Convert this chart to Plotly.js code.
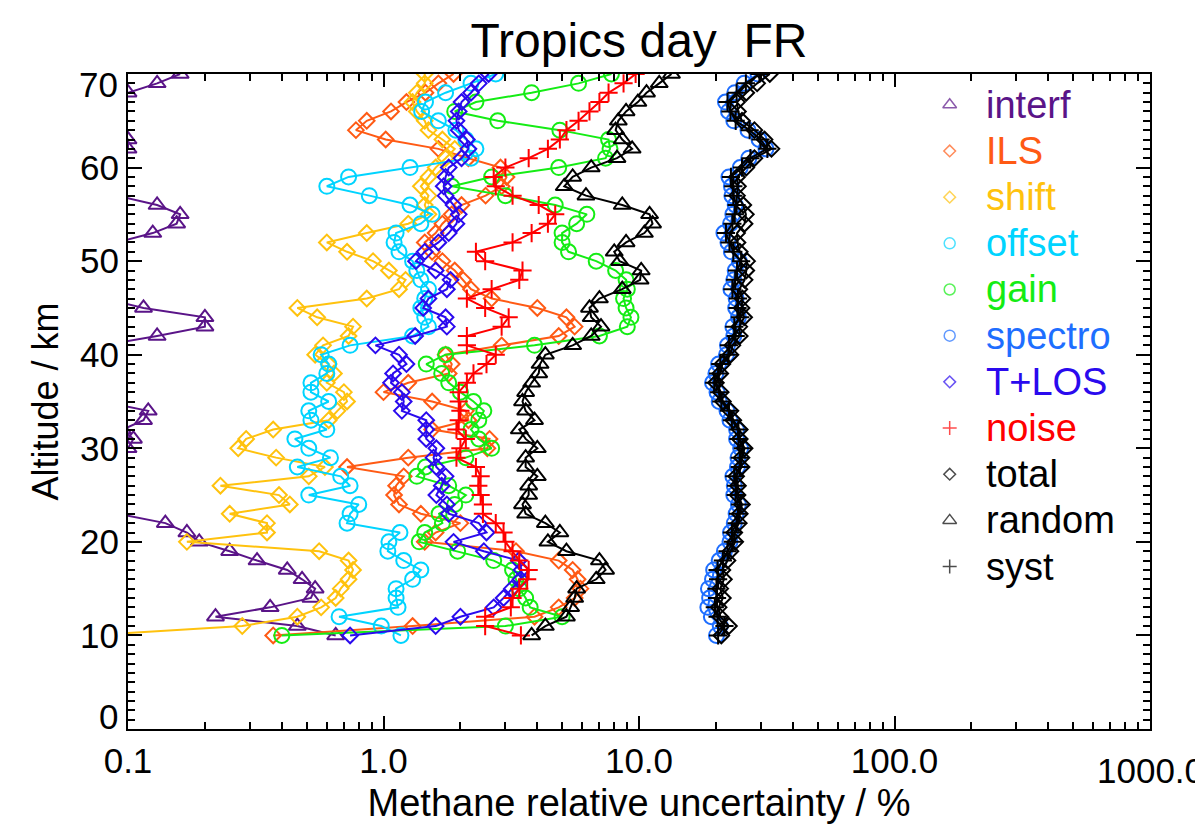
<!DOCTYPE html>
<html>
<head>
<meta charset="utf-8">
<script src="https://cdn.plot.ly/plotly-3.0.1.min.js"></script>
<style>html,body{margin:0;padding:0;background:#fff;}#chart{width:1195px;height:830px;}</style>
</head>
<body>
<div id="chart"></div>
<script>
// Altitude levels (km)
const altitude = [10,11,12,13,14,15,16,17,18,19,20,21,22,23,24,25,26,27,28,29,30,31,32,33,34,35,36,37,38,39,40,41,42,43,44,45,46,47,48,49,50,51,52,53,54,55,56,57,58,59,60,61,62,63,64,65,66,67,68,69,70];

// Relative uncertainty (%) per error source, altitude 10 -> 70 km
const interf = [0.65,0.46,0.22,0.36,0.52,0.54,0.48,0.42,0.32,0.25, 0.19,0.17,0.14,0.09,0.06,0.05,0.05,0.06,0.07,0.08, 0.1,0.105,0.095,0.115,0.12,0.08,0.06,0.05,0.05,0.06, 0.07,0.08,0.13,0.2,0.2,0.115,0.08,0.06,0.05,0.05, 0.06,0.07,0.09,0.125,0.155,0.16,0.13,0.09,0.07,0.06, 0.07,0.09,0.1,0.1,0.08,0.07,0.06,0.08,0.1,0.13, 0.16];
const ils = [0.37,1.3,3.9,4.85,5.6,5.9,5.75,5.5,4.85,3.3, 1.45,1.6,2.0,1.4,1.15,1.1,1.12,1.2,0.72,1.25, 2.55,2.6,1.55,2.15,2.1,1.55,1.0,1.25,1.8,1.85, 1.75,2.9,4.85,5.6,5.2,4.0,2.65,2.2,2.05,1.9, 1.7,1.55,1.45,1.6,1.7,1.85,2.02,2.51,2.9,3.03, 2.87,2.15,1.64,1.02,0.78,0.86,1.07,1.23,1.46,1.64, 1.88];
const shift = [0.07,0.28,0.46,0.57,0.65,0.68,0.73,0.76,0.73,0.56, 0.17,0.35,0.35,0.25,0.43,0.39,0.23,0.51,0.59,0.38, 0.27,0.29,0.37,0.61,0.66,0.72,0.7,0.6,0.64,0.61, 0.54,0.58,0.73,0.76,0.55,0.46,0.86,1.15,1.22,1.05, 0.91,0.72,0.6,0.86,1.25,1.5,1.45,1.5,1.4,1.5, 1.6,1.75,1.9,1.7,1.5,1.45,1.35,1.3,1.35,1.45, 1.45];
const offset = [1.17,0.98,0.67,1.14,1.12,1.12,1.3,1.4,1.2,1.04, 1.05,1.16,0.72,0.74,0.8,0.51,0.74,0.68,0.46,0.62, 0.51,0.45,0.6,0.52,0.51,0.61,0.52,0.52,0.6,0.61, 0.57,0.74,1.3,1.5,1.45,1.4,1.45,1.5,1.4,1.35, 1.3,1.15,1.1,1.12,1.4,1.55,1.27,0.88,0.6,0.73, 1.27,2.2,2.3,2.1,1.92,1.64,1.41,1.46,1.75,2.2, 2.75];
const gain = [0.4,3.0,5.0,3.75,3.6,3.4,3.3,3.2,2.7,1.95, 1.38,1.45,1.7,1.65,1.9,2.1,1.8,1.35,1.46,2.1, 2.65,2.36,2.2,2.36,2.47,2.25,2.0,1.8,1.69,1.47, 1.75,3.9,7.0,9.0,9.3,8.9,8.7,9.0,8.9,8.1, 6.8,5.3,5.0,5.0,5.7,6.25,4.7,3.0,1.85,2.65, 4.85,7.4,7.7,7.6,4.9,2.8,1.9,2.3,3.8,5.8, 7.8];
const spectro = [20.1,20.8,19.2,18.6,18.9,18.7,19.4,19.6,20.6,21.6, 22.7,22.8,23.6,24.0,24.5,23.5,23.6,23.3,24.3,24.4, 25.0,24.1,24.1,22.7,22.1,20.6,20.2,19.4,20.0,20.5, 22.0,22.2,23.5,23.3,24.5,23.9,24.0,22.9,23.5,23.8, 24.7,23.0,22.3,21.5,22.8,23.3,23.8,23.1,23.0,22.5, 24.9,26.9,31.4,29.5,26.7,23.5,22.4,21.8,23.7,25.8, 29.2];
const tlos = [0.74,1.6,2.0,2.7,2.95,3.18,3.44,3.47,3.38,2.47, 1.88,2.53,2.36,1.8,1.77,1.61,1.69,1.75,1.61,1.57, 1.61,1.47,1.47,1.47,1.18,1.2,1.18,1.07,1.09,1.23, 1.15,0.93,1.33,1.77,1.75,1.43,1.5,1.77,1.83,1.6, 1.34,1.45,1.64,1.8,1.93,1.97,1.88,1.75,1.72,1.75, 1.8,2.02,2.15,2.12,1.97,1.93,1.97,2.02,2.2,2.36, 2.58];
const noise = [3.45,2.5,2.5,3.15,3.2,3.4,3.65,3.7,3.4,3.2, 3.0,2.95,2.75,2.45,2.45,2.4,2.35,2.4,2.3,1.93, 2.0,2.1,1.93,1.97,2.0,1.97,1.97,2.12,2.25,2.53, 2.75,2.12,2.12,2.9,3.09,2.5,2.12,2.65,3.4,3.5, 2.5,2.3,3.2,3.8,4.4,4.7,4.05,3.2,2.75,2.7, 3.0,3.7,4.4,4.9,5.2,5.8,6.4,7.0,7.6,8.7, 9.7];
const total = [21,22.5,20.8,20.5,21.3,20.8,21.5,21.2,22.2,22.8, 23.8,23.6,24.6,24.8,25.3,24.3,24.4,24.0,25.2,25.2, 25.9,24.8,24.8,23.4,22.8,21.3,20.9,20.0,20.8,21.2, 22.8,23.2,24.8,24.7,25.8,25.2,25.4,24.7,25.9,26.3, 26.5,24.8,24.3,24.2,25.9,26.2,25.6,24.2,24.4,24.2, 26.3,28.3,33,31,28.3,25.3,24.4,24.2,26.3,29, 32.5];
const random = [3.8,4.3,5.2,5.4,5.6,5.7,6.8,7.4,7.0,5.2, 4.4,4.9,4.3,3.6,3.5,3.7,3.7,4.0,3.6,3.6, 4.0,3.6,3.4,3.9,3.6,3.5,3.6,3.8,4.05,4.1, 4.3,5.5,6.5,7.1,6.5,6.4,7.0,8.6,10.1,10.2, 8.4,8.0,8.9,10.5,11.3,11,8.6,6.2,5.1,5.5, 6.5,8.2,9.4,8.6,8.1,8.3,8.9,9.9,10.7,12, 13.4];
const syst = [20.4,21.6,20.3,19.8,20.2,20.1,20.4,20.3,21.3,22.2, 23.3,23.1,24.1,24.4,24.9,23.9,24.0,23.6,24.8,24.8, 25.5,24.5,24.5,23.1,22.5,21.0,20.6,19.7,20.4,20.8, 22.4,22.5,23.9,23.6,24.9,24.3,24.4,23.2,23.8,24.2, 25.1,23.4,22.6,21.9,23.2,23.7,24.1,23.4,23.4,22.9, 25.3,27.3,31.8,29.9,27.1,23.9,22.8,22.2,24.1,26.2, 29.6];

// Tick labels
const xTickVals = [0.1, 1, 10, 100, 1000];
const xTickText = ['0.1', '1.0', '10.0', '100.0', '1000.0'];
const yTickVals = [0, 10, 20, 30, 40, 50, 60, 70];
const yTickText = ['0', '10', '20', '30', '40', '50', '60', '70'];

// Series definitions (legend order)
const seriesNames = ['interf','ILS','shift','offset','gain','spectro','T+LOS','noise','total','random','syst'];
const seriesData = [interf, ils, shift, offset, gain, spectro, tlos, noise, total, random, syst];
const seriesColors = ['#5a1488','#ff5a14','#ffc20e','#00d4ff','#14ec14','#1e6eff','#2a0aee','#ff0000','#000000','#000000','#000000'];
const seriesSymbols = ['triangle-up-open','diamond-open','diamond-open','circle-open','circle-open','circle-open','diamond-open','cross-thin-open','diamond-open','triangle-up-open','cross-thin-open'];
const seriesSizes = [15,12,12,15,15,15,12,13,12,15,13];

const FONT = 'Liberation Sans, Arial, Helvetica, sans-serif';
const traces = seriesNames.map((n, i) => ({
  type: 'scatter', mode: 'lines+markers',
  x: seriesData[i], y: altitude,
  name: n, showlegend: false,
  line: {color: seriesColors[i], width: 2},
  marker: {symbol: seriesSymbols[i], size: seriesSizes[i], color: seriesColors[i],
           line: {color: seriesColors[i], width: 2}},
  cliponaxis: true,
  hoverinfo: 'skip'
}));

// Legend (drawn on an overlay axis spanning the plot area, 0..1)
const legX = 0.804, legTextX = 0.838, legTop = 0.953, legStep = 0.0705;
const legY = seriesNames.map((_, k) => legTop - k * legStep);
traces.push({
  type: 'scatter', mode: 'markers', xaxis: 'x2', yaxis: 'y2',
  x: seriesNames.map(() => legX), y: legY, showlegend: false, hoverinfo: 'skip',
  marker: {symbol: seriesSymbols, size: seriesSymbols.map(s => s.startsWith('triangle') ? 12 : (s.startsWith('circle') ? 11 : (s.startsWith('diamond') ? 9 : 10))),
           color: seriesColors, line: {color: seriesColors, width: 1.5}}
});
const annotations = seriesNames.map((n, k) => ({
  xref: 'x2', yref: 'y2', x: legTextX, y: legY[k], text: n, showarrow: false,
  xanchor: 'left', yanchor: 'middle', font: {family: FONT, size: 38, color: seriesColors[k]}
}));

// End tick labels placed like the original (inset from the corners)
const tickFont = {family: FONT, size: 35, color: '#000'};
annotations.push({xref: 'paper', yref: 'y', x: 0, y: yTickVals[0], text: yTickText[0], showarrow: false,
  xanchor: 'right', yanchor: 'middle', xshift: -8, yshift: 13, font: tickFont});
annotations.push({xref: 'paper', yref: 'y', x: 0, y: yTickVals[yTickVals.length - 1], text: yTickText[yTickText.length - 1], showarrow: false,
  xanchor: 'right', yanchor: 'middle', xshift: -8, yshift: -10, font: tickFont});
annotations.push({xref: 'x', yref: 'paper', x: Math.log10(xTickVals[xTickVals.length - 1]), y: 0,
  text: xTickText[xTickText.length - 1], showarrow: false,
  xanchor: 'center', yanchor: 'middle', yshift: -41, font: tickFont});

const yTickTextShown = yTickText.map((t, k) => (k === 0 || k === yTickText.length - 1) ? '' : t);
const xTickTextShown = xTickText.map((t, k) => k === xTickText.length - 1 ? '' : t);

// Minor tick positions
const xMinor = [];
[0.1, 1, 10, 100].forEach(d => { for (let m = 2; m <= 9; m++) xMinor.push(m * d); });

const layout = {
  width: 1195, height: 830,
  paper_bgcolor: '#fff', plot_bgcolor: '#fff',
  margin: {l: 128, r: 45, t: 74, b: 101},
  font: {family: FONT, color: '#000'},
  title: {text: 'Tropics day\u00a0\u00a0FR', x: 0.5, xref: 'paper', xanchor: 'center',
          y: 0.952, yref: 'container', yanchor: 'middle', font: {family: FONT, size: 48, color: '#000'}},
  xaxis: {
    type: 'log', range: [-1, 3], showgrid: false, zeroline: false,
    showline: true, linecolor: '#000', linewidth: 2, mirror: 'allticks',
    ticks: 'inside', ticklen: 13, tickwidth: 2, tickcolor: '#000',
    tickvals: xTickVals, ticktext: xTickTextShown,
    tickfont: tickFont,
    minor: {tickvals: xMinor, ticks: 'inside', ticklen: 7, tickwidth: 2, tickcolor: '#000', showgrid: false},
    title: {text: 'Methane relative uncertainty / %', font: {family: FONT, size: 38, color: '#000'}, standoff: 10}
  },
  yaxis: {
    range: [0, 70], showgrid: false, zeroline: false,
    showline: true, linecolor: '#000', linewidth: 2, mirror: 'allticks',
    ticks: 'inside', ticklen: 14, tickwidth: 2, tickcolor: '#000',
    tickvals: yTickVals, ticktext: yTickTextShown,
    tickfont: tickFont,
    minor: {dtick: 1, ticks: 'inside', ticklen: 7, tickwidth: 2, tickcolor: '#000', showgrid: false},
    title: {text: 'Altitude / km', font: {family: FONT, size: 36, color: '#000'}, standoff: 10}
  },
  xaxis2: {overlaying: 'x', range: [0, 1], visible: false, fixedrange: true},
  yaxis2: {overlaying: 'y', range: [0, 1], visible: false, fixedrange: true},
  annotations: annotations,
  showlegend: false
};

Plotly.newPlot('chart', traces, layout, {displayModeBar: false, staticPlot: true});
</script>
</body>
</html>
